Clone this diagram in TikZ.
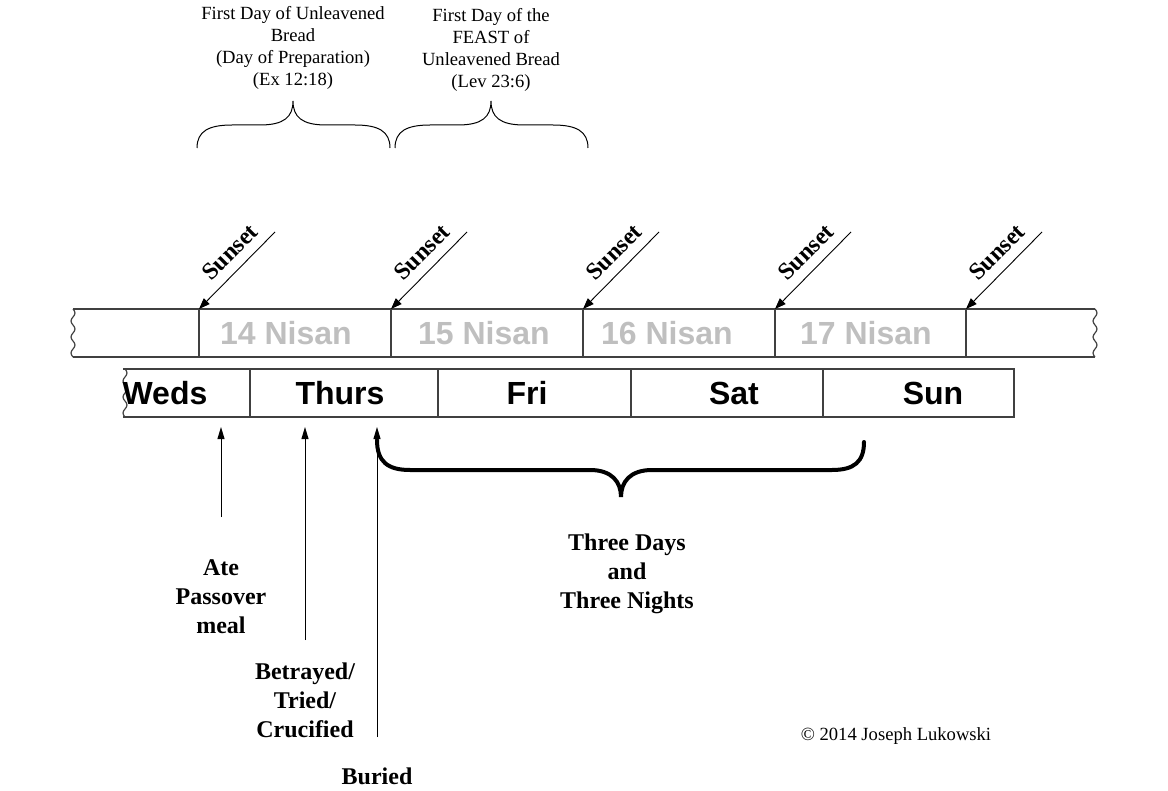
\documentclass[tikz,border=0pt]{standalone}
\usepackage{fontspec}
\setmainfont{Liberation Serif}
\setsansfont{Liberation Sans}
\usetikzlibrary{arrows.meta}

\begin{document}
\begin{tikzpicture}[
  x=0.5pt, y=-0.5pt,
  band/.style={draw=black!75, line width=0.6pt},
  dayname/.style={font=\fontsize{16}{19}\selectfont\sffamily\bfseries, inner sep=0pt},
  nisan/.style={font=\fontsize{16}{19}\selectfont\sffamily\bfseries, text=black!25, inner sep=0pt},
  sun/.style={-{Triangle[length=5.5pt,width=4pt]}, line width=0.45pt},
  sunlbl/.style={font=\fontsize{12}{14}\selectfont\bfseries, rotate=45, inner sep=0pt},
  note/.style={font=\fontsize{9.3}{10.9}\selectfont, align=center, inner sep=0pt},
  evt/.style={-{Triangle[length=6pt,width=3.5pt]}, line width=0.5pt},
  evtlbl/.style={font=\fontsize{12}{14.5}\selectfont\bfseries, align=center, inner sep=0pt},
  curly/.style={line width=0.5pt},
  bigcurly/.style={line width=2pt, line cap=round},
]
  \useasboundingbox (0,0) rectangle (1168,791);

  % --- Nisan band (sunset to sunset) ---
  \draw[band] (73,309) -- (1095,309);
  \draw[band] (73,357) -- (1095,357);
  \draw[band] plot[smooth, domain=0:48, samples=25] ({73+2*sin(\x*22.5)},{309+\x});
  \draw[band] plot[smooth, domain=0:48, samples=25] ({1095+2*sin(\x*22.5)},{309+\x});
  \foreach \x in {199,391,583,775,966}
    \draw[band] (\x,309) -- (\x,357);

  \node[nisan] (n14) at (286,333) {14 Nisan};
  \node[nisan] (n15) at (484,333) {15 Nisan};
  \node[nisan] (n16) at (667,333) {16 Nisan};
  \node[nisan] (n17) at (866,333) {17 Nisan};

  % --- Sunset arrows ---
  \foreach \x [count=\i] in {199,391,583,775,966} {
    \coordinate (ss\i) at (\x,309);
    \coordinate (sf\i) at (\x+76,232);
    \draw[sun] (sf\i) -- (ss\i);
    \node[sunlbl] (sunset\i) at (\x+31,252) {Sunset};
  }

  % --- Day band ---
  \draw[band] (123,369) -- (1014,369) -- (1014,417) -- (123,417);
  \draw[band] plot[smooth, domain=0:48, samples=25] ({125+2*sin(\x*22.5)},{369+\x});
  \foreach \x in {250,438,631,823}
    \draw[band] (\x,369) -- (\x,417);

  \node[dayname] (weds)  at (165,393) {Weds};
  \node[dayname] (thurs) at (340,393) {Thurs};
  \node[dayname] (fri)   at (527,393) {Fri};
  \node[dayname] (sat)   at (734,393) {Sat};
  \node[dayname] (sun)   at (933,393) {Sun};

  % --- Feast labels and braces ---
  \node[note] (prep) at (293,48)
    {First Day of Unleavened\\Bread\\(Day of Preparation)\\(Ex 12:18)};
  \node[note] (feast) at (491,50)
    {First Day of the\\FEAST of\\Unleavened Bread\\(Lev 23:6)};

  \draw[curly] (197,148) .. controls (197,131) and (209,125) .. (232,125)
    -- (260,125) .. controls (284,125) and (293,117) .. (293,101)
    .. controls (293,117) and (302,125) .. (326,125)
    -- (355,125) .. controls (378,125) and (390,131) .. (390,148);
  \draw[curly] (395,148) .. controls (395,131) and (407,125) .. (430,125)
    -- (458,125) .. controls (482,125) and (491,117) .. (491,101)
    .. controls (491,117) and (500,125) .. (524,125)
    -- (553,125) .. controls (576,125) and (588,131) .. (588,148);

  % --- Three days and three nights ---
  \draw[bigcurly] (377,440) .. controls (377,462) and (388,470) .. (410,470)
    -- (590,470) .. controls (612,470) and (621,482) .. (621,497)
    .. controls (621,482) and (630,470) .. (652,470)
    -- (832,470) .. controls (854,470) and (864,462) .. (864,442);
  \node[evtlbl] (three) at (627,574) {Three Days\\and\\Three Nights};

  % --- Events ---
  \node[evtlbl] (ate)    at (221,597) {Ate\\Passover\\meal};
  \node[evtlbl] (betray) at (305,700) {Betrayed/\\Tried/\\Crucified};
  \node[evtlbl] (buried) at (377,776) {Buried};

  \coordinate (ate-s)    at (221,517);
  \coordinate (betray-s) at (305,640);
  \coordinate (buried-s) at (377,737);
  \draw[evt] (ate-s)    -- (221,427);
  \draw[evt] (betray-s) -- (305,427);
  \draw[evt] (buried-s) -- (377,427);

  % --- Copyright ---
  \node[note] (copy) at (896,736) {\textcopyright{} 2014 Joseph Lukowski};

\end{tikzpicture}
\end{document}
